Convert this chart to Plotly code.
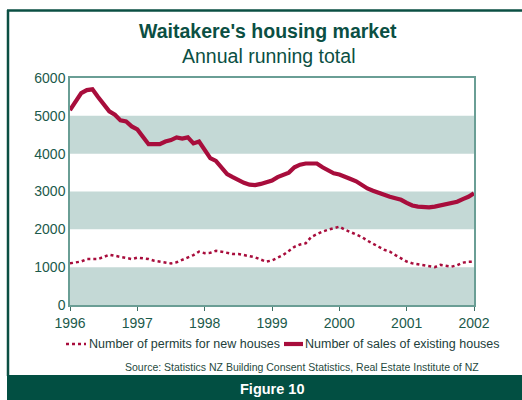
import plotly.graph_objects as go

# ---------------- data ----------------
months = [1996 + i / 12 for i in range(73)]

sales_existing = [
    5150, 5400, 5600, 5680, 5700, 5500, 5300, 5120, 5030, 4880, 4850, 4720,
    4640, 4450, 4250, 4250, 4250, 4320, 4360, 4430, 4400, 4430, 4270, 4320,
    4100, 3880, 3810, 3640, 3460, 3380, 3300, 3230, 3180, 3170, 3200, 3240,
    3290, 3380, 3440, 3500, 3640, 3710, 3740, 3750, 3740, 3640, 3560, 3480,
    3450, 3400, 3330, 3270, 3160, 3080, 3020, 2960, 2900, 2860, 2820, 2780,
    2700, 2630, 2600, 2590, 2580, 2600, 2630, 2680, 2710, 2730, 2800, 2860,
    2950,
]

permits_new = [
    1100, 1120, 1150, 1215, 1215, 1215, 1270, 1330, 1300, 1270, 1230, 1215,
    1250, 1240, 1215, 1170, 1140, 1120, 1100, 1130, 1190, 1240, 1320, 1410,
    1370, 1380, 1430, 1410, 1380, 1350, 1350, 1320, 1300, 1260, 1200, 1145,
    1180, 1240, 1320, 1430, 1540, 1600, 1630, 1800, 1880, 1940, 1990, 2030,
    2070, 1990, 1920, 1860, 1800, 1700, 1630, 1540, 1460, 1410, 1320, 1235,
    1150, 1100, 1080, 1060, 1030, 1000, 1060, 1040, 1015, 1050, 1120, 1140,
    1145,
]

x_ticks = [1996, 1997, 1998, 1999, 2000, 2001, 2002]
y_ticks = [0, 1000, 2000, 3000, 4000, 5000, 6000]

title = "Waitakere's housing market"
subtitle = "Annual running total"
name_permits = "Number of permits for new houses"
name_sales = "Number of sales of existing houses"
source = "Source: Statistics NZ Building Consent Statistics, Real Estate Institute of NZ"
footer = "Figure 10"

# ---------------- styling ----------------
W, H = 522, 400
ML, MR, MT, MB = 70, 48, 78, 95
PW, PH = W - ML - MR, H - MT - MB

DARK = "#0b4f43"
BAND = "#c4d9d6"
AXIS = "#6a9e95"
CRIMSON = "#a80d3c"
TICKTXT = "#1c5a4b"
LEGTXT = "#22403a"
FONT = "Liberation Sans, Arial, sans-serif"


def px(xp):
    return (xp - ML) / PW


def py(yp):
    return (H - MB - yp) / PH


fig = go.Figure()

fig.add_trace(go.Scatter(
    x=months, y=permits_new, name=name_permits, mode="lines",
    line=dict(color=CRIMSON, width=2.5, dash="dot"), showlegend=False,
))
fig.add_trace(go.Scatter(
    x=months, y=sales_existing, name=name_sales, mode="lines",
    line=dict(color=CRIMSON, width=4.2), showlegend=False,
))

shapes = []
# alternating background bands (every other 1000 interval, starting at 0)
for i in range(0, len(y_ticks) - 1, 2):
    shapes.append(dict(type="rect", xref="x", yref="y", layer="below",
                       x0=x_ticks[0], x1=x_ticks[-1],
                       y0=y_ticks[i], y1=y_ticks[i + 1],
                       fillcolor=BAND, line=dict(width=0)))
# outer frame
shapes.append(dict(type="line", xref="paper", yref="paper",
                   x0=px(7), x1=px(W + 5), y0=py(10.5), y1=py(10.5),
                   line=dict(color=DARK, width=2.5)))
shapes.append(dict(type="line", xref="paper", yref="paper",
                   x0=px(8), x1=px(8), y0=py(10), y1=py(376),
                   line=dict(color=DARK, width=2.5)))
# footer band
shapes.append(dict(type="rect", xref="paper", yref="paper",
                   x0=px(7), x1=px(W + 5), y0=py(375), y1=py(H + 5),
                   fillcolor="#024f42", line=dict(width=0)))
# custom legend symbols
LEG_Y = 344
shapes.append(dict(type="line", xref="paper", yref="paper",
                   x0=px(66), x1=px(86), y0=py(LEG_Y), y1=py(LEG_Y),
                   line=dict(color=CRIMSON, width=2.5, dash="dot")))
shapes.append(dict(type="line", xref="paper", yref="paper",
                   x0=px(284), x1=px(303), y0=py(LEG_Y), y1=py(LEG_Y),
                   line=dict(color=CRIMSON, width=4.2)))

annotations = [
    dict(text=f"<b>{title}</b>", xref="paper", yref="paper",
         x=px(268), y=py(31), xanchor="center", yanchor="middle",
         showarrow=False, font=dict(family=FONT, size=19.5, color=DARK)),
    dict(text=subtitle, xref="paper", yref="paper",
         x=px(268), y=py(56), xanchor="center", yanchor="middle",
         showarrow=False, font=dict(family=FONT, size=19.5, color=DARK)),
    dict(text=name_permits, xref="paper", yref="paper",
         x=px(87), y=py(LEG_Y), xanchor="left", yanchor="middle",
         showarrow=False, font=dict(family=FONT, size=12.5, color=LEGTXT)),
    dict(text=name_sales, xref="paper", yref="paper",
         x=px(303), y=py(LEG_Y), xanchor="left", yanchor="middle",
         showarrow=False, font=dict(family=FONT, size=12.5, color=LEGTXT)),
    dict(text=source, xref="paper", yref="paper",
         x=px(302), y=py(367), xanchor="center", yanchor="middle",
         showarrow=False, font=dict(family=FONT, size=10.5, color="#1f4a40")),
    dict(text=f"<b>{footer}</b>", xref="paper", yref="paper",
         x=px(272), y=py(388.5), xanchor="center", yanchor="middle",
         showarrow=False, font=dict(family=FONT, size=14.5, color="white")),
]

fig.update_layout(
    width=W, height=H,
    margin=dict(l=ML, r=MR, t=MT, b=MB, pad=0),
    paper_bgcolor="white", plot_bgcolor="white",
    font=dict(family=FONT, color=TICKTXT),
    showlegend=False,
    shapes=shapes,
    annotations=annotations,
    xaxis=dict(range=[x_ticks[0], x_ticks[-1]], tickvals=x_ticks,
               ticktext=[str(v) for v in x_ticks],
               showgrid=False, zeroline=False, showline=True, mirror=True,
               linecolor=AXIS, linewidth=1.5, ticks="outside", ticklen=4,
               tickcolor="#3d6e64", tickwidth=1,
               tickfont=dict(family=FONT, size=14, color=TICKTXT)),
    yaxis=dict(range=[y_ticks[0], y_ticks[-1]], tickvals=y_ticks,
               showgrid=False, zeroline=False, showline=True, mirror=True,
               linecolor=AXIS, linewidth=1.5, ticks="", ticklen=0,
               tickfont=dict(family=FONT, size=14, color=TICKTXT)),
)

fig.write_html("out.html",
               config={"displayModeBar": False},
               post_script="document.body.style.margin='0';document.body.style.padding='0';")
